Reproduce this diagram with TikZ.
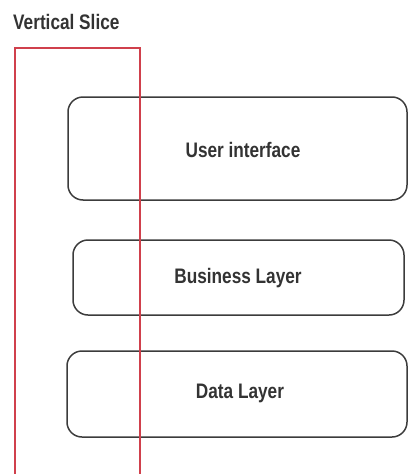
\documentclass[tikz,border=0pt]{standalone}
\usepackage{fontspec}
\setmainfont{Liberation Sans}[FakeStretch=0.82]
\definecolor{slicered}{HTML}{D0404C}
\definecolor{boxgray}{HTML}{3C3C3C}
\definecolor{txtgray}{HTML}{333333}
\begin{document}
\begin{tikzpicture}[x=1pt,y=-1pt,
  layer/.style={draw=boxgray,line width=1.5pt,rounded corners=15pt,fill=none,
    text=txtgray,inner sep=0pt},
  lbl/.style={text=txtgray,font=\bfseries\fontsize{21}{24}\selectfont,inner sep=0pt}]
\useasboundingbox (0,0) rectangle (408,474);
\node[layer,minimum width=339pt,minimum height=103pt] (ui) at (237.5,148.5) {};
\node[lbl] (uit) at (243,150) {User interface};
\node[layer,minimum width=331pt,minimum height=75pt] (bl) at (238.5,277.5) {};
\node[lbl] (blt) at (238,278) {Business Layer};
\node[layer,minimum width=340pt,minimum height=86pt] (dl) at (237,394) {};
\node[lbl] (dlt) at (240,393) {Data Layer};
\node[lbl,anchor=west] (vs) at (13,22) {Vertical Slice};
\coordinate (sbl) at (15,476);
\coordinate (stl) at (15,48);
\coordinate (str) at (140,48);
\coordinate (sbr) at (140,476);
\draw[slicered,line width=2pt] (sbl) -- (stl) -- (str) -- (sbr);
\end{tikzpicture}
\end{document}
